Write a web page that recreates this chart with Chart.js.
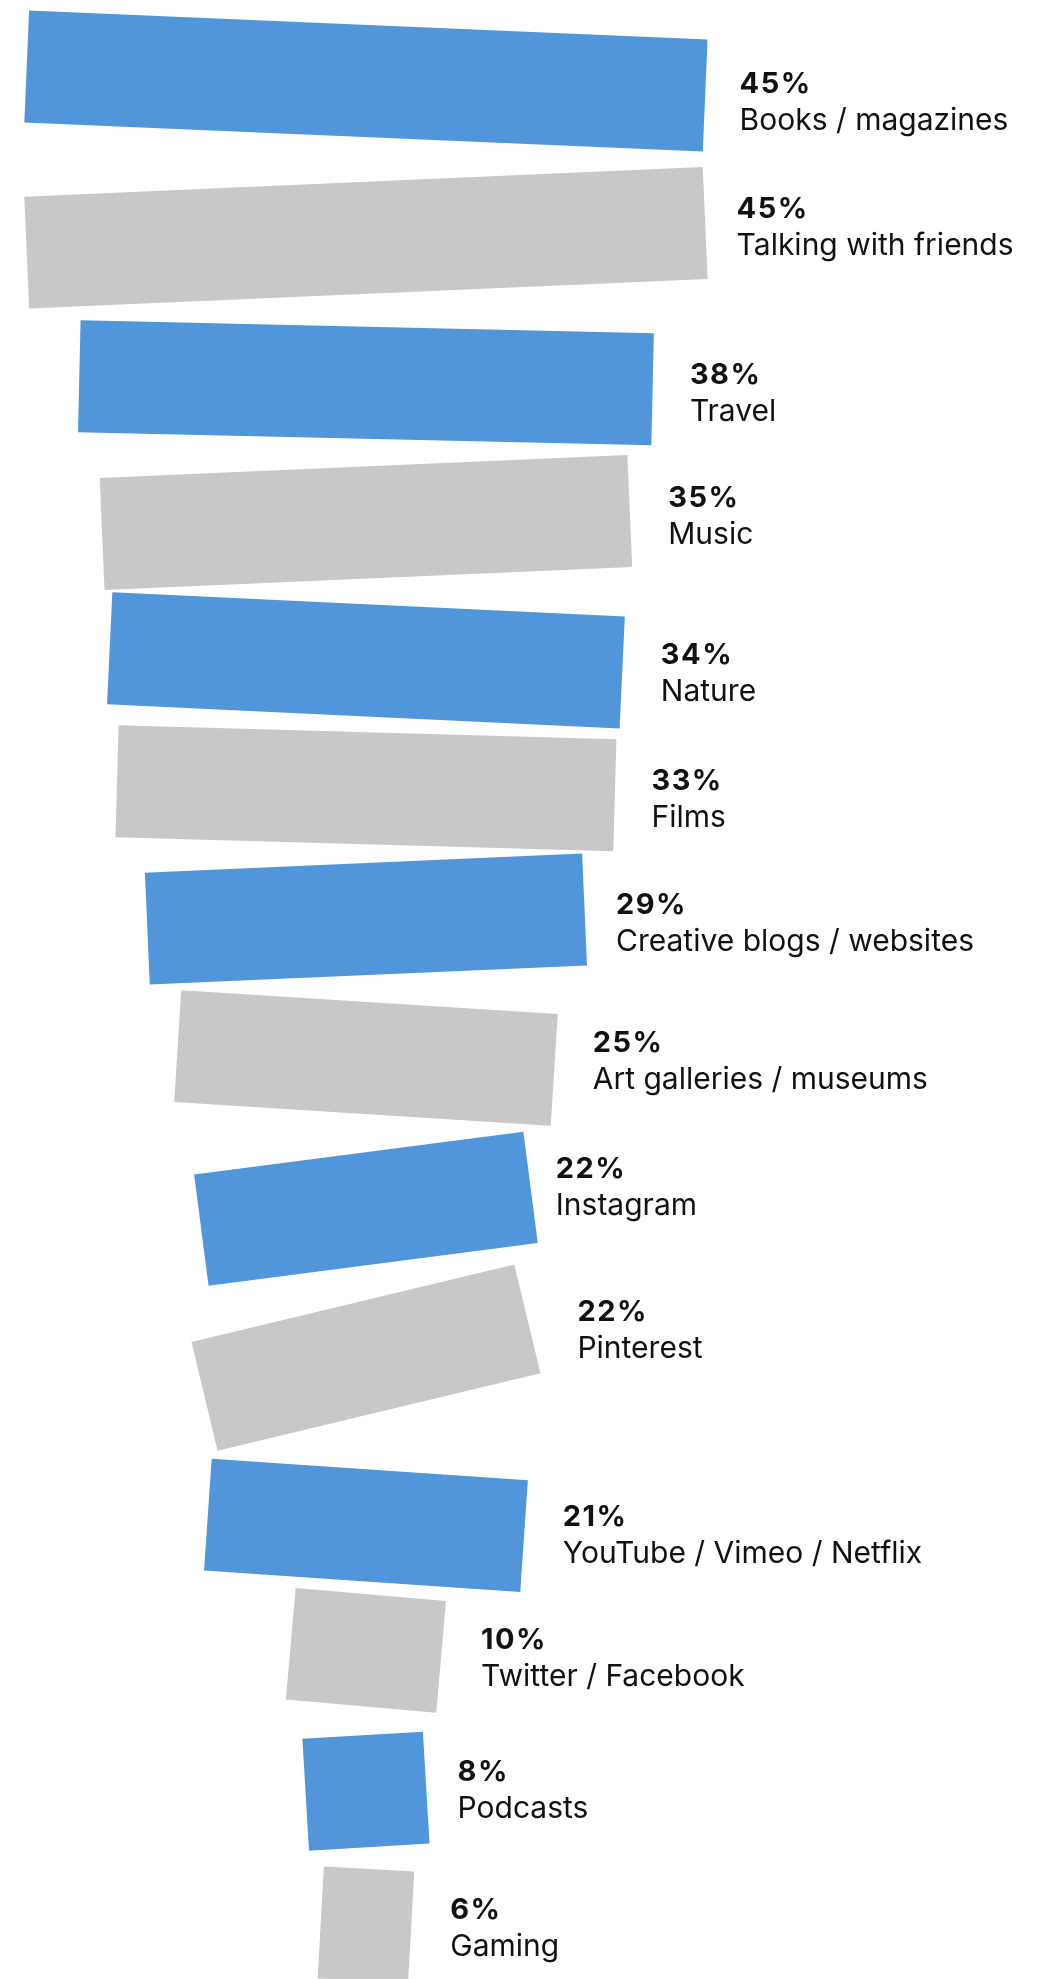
<!DOCTYPE html>
<html>
<head>
<meta charset="utf-8">
<title>Sources of inspiration</title>
<script src="https://cdn.jsdelivr.net/npm/chart.js@4/dist/chart.umd.min.js"></script>
<style>
  html, body { margin: 0; padding: 0; background: #fff; }
  #wrap { position: relative; width: 1055px; height: 1979px; }
</style>
</head>
<body>
<div id="wrap"><canvas id="chart"></canvas></div>
<script>
// Share of respondents per source of inspiration (%)
const categories = [
    'Books / magazines', 'Talking with friends', 'Travel', 'Music', 'Nature', 'Films',
    'Creative blogs / websites', 'Art galleries / museums', 'Instagram', 'Pinterest',
    'YouTube / Vimeo / Netflix', 'Twitter / Facebook', 'Podcasts', 'Gaming'
];
const values = [45, 45, 38, 35, 34, 33, 29, 25, 22, 22, 21, 10, 8, 6];
const valueLabels = values.map(v => v + '%');

// Hand-drawn look: each bar is tilted a little and nudged off the grid
const tilts = [2.45, -2.5, 1.3, -2.5, 2.7, 1.6, -2.5, 3.6, -7.4, -13.5, 3.9, 5, -3.4, 3.2];
const nudges = [0, 15, 18, 16, 12, -2, -13, -16, -7, 0, 26, 9, 8, 0];
// small hand tweaks to the label blocks
const labelDx = [-2, -5, 2, 2, 2, 1, -5, 1, -16, 3, 1, 1, -6, 2];
const labelDy = [1, -1, -1, 0, -4, -1, 8, -14, -5, 6, -6, -4, -3, -5];

const BLUE = '#5196db';
const GREY = '#c8c8c8';

const tiltedBars = {
    id: 'tiltedBars',
    beforeDatasetDraw(chart, args) {
        const ctx = chart.ctx;
        args.meta.data.forEach((bar, i) => {
            const p = bar.getProps(['x', 'y', 'base', 'height'], true);
            const left = Math.min(p.x, p.base);
            const right = Math.max(p.x, p.base);
            const w = right - left;
            const h = p.height;
            const cx = (left + right) / 2;
            const cy = p.y + nudges[i];
            const a = tilts[i] * Math.PI / 180;

            ctx.save();
            ctx.translate(cx, cy);
            ctx.rotate(a);
            ctx.fillStyle = bar.options.backgroundColor;
            ctx.fillRect(-w / 2, -h / 2, w, h);
            ctx.restore();

            // label sits just right of the tilted bar's outer corner
            const edgeX = cx + (w / 2) * Math.cos(a) + (h / 2) * Math.abs(Math.sin(a));
            const midY = cy + (w / 2) * Math.sin(a);
            const tx = edgeX + 34 + labelDx[i];
            const ty = midY + labelDy[i];

            ctx.save();
            ctx.fillStyle = '#111';
            ctx.textAlign = 'left';
            ctx.textBaseline = 'alphabetic';
            ctx.font = 'bold 29px Inter';
            ctx.letterSpacing = '1.5px';
            ctx.fillText(valueLabels[i], tx, ty - 4);
            ctx.font = '30px Inter';
            ctx.letterSpacing = '0px';
            ctx.fillText(categories[i], tx, ty + 33);
            ctx.restore();
        });
        return false;
    }
};

new Chart(document.getElementById('chart'), {
    type: 'bar',
    data: {
        labels: categories,
        datasets: [{
            data: values.map(v => [-v / 2, v / 2]),
            backgroundColor: values.map((v, i) => i % 2 === 0 ? BLUE : GREY),
            barThickness: 112,
            borderSkipped: false
        }]
    },
    options: {
        indexAxis: 'y',
        responsive: true,
        maintainAspectRatio: false,
        animation: false,
        events: [],
        layout: { padding: { top: 81, bottom: 54, left: 0, right: 0 } },
        scales: {
            x: { display: false, min: -24.25, max: 45.66 },
            y: { display: false, offset: false }
        },
        plugins: {
            legend: { display: false },
            tooltip: { enabled: false }
        }
    },
    plugins: [tiltedBars]
});
</script>
</body>
</html>
